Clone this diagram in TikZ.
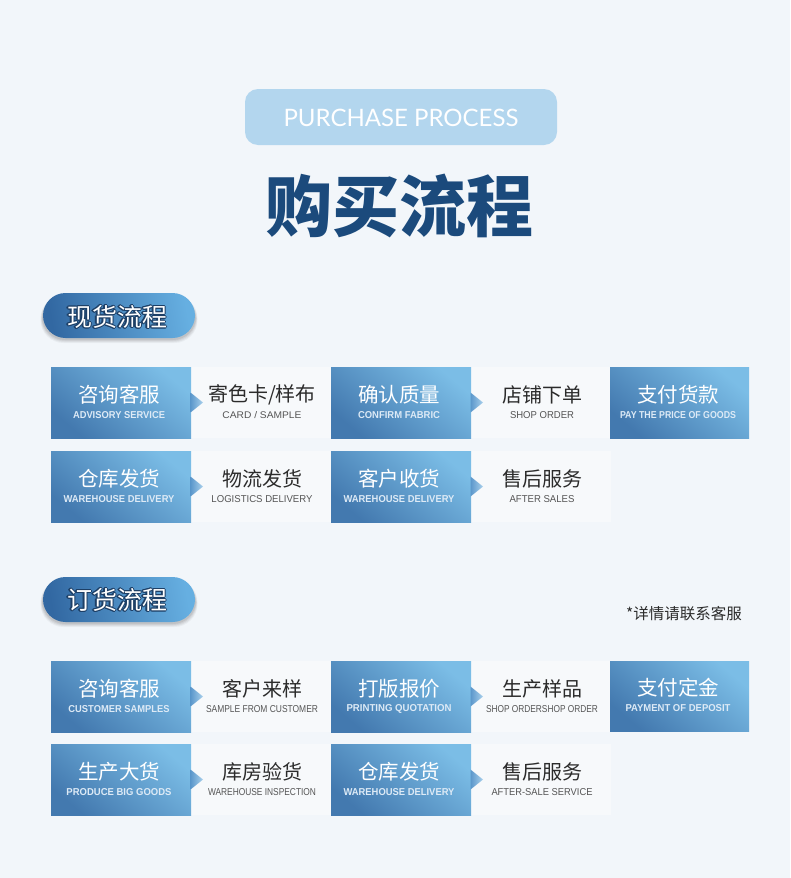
\documentclass[tikz,border=0pt]{standalone}
\usepackage{fontspec}
\usepackage{graphicx}
\setmainfont{Liberation Sans}
\newfontfamily\cjk{Noto Sans CJK SC}
\newfontfamily\latf{Lato}
\usetikzlibrary{calc}
\definecolor{bg}{HTML}{F2F6FA}
\definecolor{cellbg}{HTML}{F7F9FB}
\definecolor{titlepill}{HTML}{B3D6EE}
\definecolor{titleblue}{HTML}{1B4A7C}
\definecolor{boxdark}{HTML}{4379AF}
\definecolor{boxlight}{HTML}{7BBDE6}
\definecolor{boxmid}{HTML}{5B97CB}
\definecolor{notchlight}{HTML}{A9D0EC}
\definecolor{pilldark}{HTML}{3268A2}
\definecolor{pilllight}{HTML}{66AFE1}
\definecolor{pillline}{HTML}{1D3F66}
\definecolor{midtext}{HTML}{2B2B2B}
\definecolor{midsub}{HTML}{555555}
\definecolor{boxsub}{HTML}{DDEAF6}
\newcommand\boxen[2]{\resizebox{#1pt}{7pt}{\bfseries #2}}
\newcommand\miden[2]{\resizebox{#1pt}{7pt}{#2}}
\newcommand\shiftcopy[3]{\rlap{\hspace{#1pt}\raisebox{#2pt}{#3}}}
\newcommand\outlinedcn[1]{{\color{pillline}%
  \shiftcopy{-1.2}{0}{#1}\shiftcopy{1.2}{0}{#1}\shiftcopy{0}{1.2}{#1}\shiftcopy{0}{-1.2}{#1}%
  \shiftcopy{-.85}{-.85}{#1}\shiftcopy{.85}{.85}{#1}\shiftcopy{-.85}{.85}{#1}\shiftcopy{.85}{-.85}{#1}}#1}
\tikzset{
  boxshade/.style={left color=boxdark, right color=boxlight, shading angle=140},
  notchshade/.style={left color=boxmid, right color=notchlight},
  pillshade/.style={left color=pilldark, right color=pilllight, shading angle=100},
  boxcn/.style={inner sep=0pt, font=\cjk\fontsize{20.5}{22}\selectfont, text=white},
  boxsubt/.style={inner sep=0pt, text=boxsub},
  midcn/.style={inner sep=0pt, font=\cjk\fontsize{20}{22}\selectfont, text=midtext},
  midsubt/.style={inner sep=0pt, text=midsub},
  pilltext/.style={inner sep=0pt, font=\cjk\fontsize{25}{27}\selectfont},
}
% #1 name, #2 x, #3 y, #4 cn, #5 en-width, #6 en
\newcommand\flowbox[6]{%
  \shade[boxshade] (#2,#3) rectangle ++(140,71);
  \shade[notchshade] ($(#2,#3)+(139.5,25.5)$) -- ++(12.5,10) -- ++(-12.5,10) -- cycle;
  \node[boxcn] (#1) at ($(#2,#3)+(68,28)$) {#4};
  \node[boxsubt] (#1-en) at ($(#2,#3)+(68,48)$) {\boxen{#5}{#6}};
}
% middle cell: #1 name, #2 x (box left), #3 y, #4 cn, #5 width, #6 en
\newcommand\midcell[6]{%
  \fill[cellbg] ($(#2,#3)+(140,0)$) rectangle ($(#2,#3)+(280,71)$);
  \node[midcn] (#1) at ($(#2,#3)+(211,28)$) {#4};
  \node[midsubt] (#1-en) at ($(#2,#3)+(211,48)$) {\miden{#5}{#6}};
}
\newcommand\sectionpill[4]{% name, y top, y text, text
  \foreach \s/\o in {5/0.04,4/0.05,3/0.06,2/0.07}
    \fill[black, opacity=\o, rounded corners=23] (43-\s*0.5,#2+4-\s*0.3) rectangle (195+\s*0.5,#2+45+\s);
  \shade[pillshade, rounded corners=22.5] (43,#2) rectangle (195,#2+45);
  \node[pilltext, text=white] (#1) at (117,#3) {\outlinedcn{#4}};
}
\begin{document}
\begin{tikzpicture}[x=1pt,y=-1pt]
\useasboundingbox (0,0) rectangle (790,878);
\fill[bg] (0,0) rectangle (790,878);
% title
\fill[titlepill, rounded corners=13] (245,89) rectangle (557,145);
\node[inner sep=0pt, text=white, font=\latf\fontsize{24}{26}\selectfont] (ptitle) at (401,118) {PURCHASE PROCESS};
\node[inner sep=0pt, text=titleblue, font=\cjk\bfseries\fontsize{67}{70}\selectfont] (title) at (399,206) {购买流程};
% section 1
\sectionpill{sec1}{293}{317}{现货流程}
\midcell{m11}{51}{367}{寄色卡/样布}{79}{CARD / SAMPLE}
\midcell{m12}{331}{367}{店铺下单}{64}{SHOP ORDER}
\midcell{m21}{51}{451}{物流发货}{101}{LOGISTICS DELIVERY}
\midcell{m22}{331}{451}{售后服务}{65}{AFTER SALES}
\flowbox{a1}{51}{367}{咨询客服}{92}{ADVISORY SERVICE}
\flowbox{a2}{331}{367}{确认质量}{82}{CONFIRM FABRIC}
\shade[boxshade] (610,367) rectangle (749,438);
\node[boxcn] (a3) at (678,395) {支付货款};
\node[boxsubt] (a3-en) at (678,415) {\boxen{116}{PAY THE PRICE OF GOODS}};
\flowbox{a4}{51}{451}{仓库发货}{111}{WAREHOUSE DELIVERY}
\flowbox{a5}{331}{451}{客户收货}{111}{WAREHOUSE DELIVERY}
% section 2
\sectionpill{sec2}{577}{600}{订货流程}
\node[inner sep=0pt, text=midtext, font=\cjk\fontsize{15.5}{17}\selectfont] (note) at (684,614) {*详情请联系客服};
\midcell{n11}{51}{661}{客户来样}{112}{SAMPLE FROM CUSTOMER}
\midcell{n12}{331}{661}{生产样品}{112}{SHOP ORDERSHOP ORDER}
\midcell{n21}{51}{744}{库房验货}{108}{WAREHOUSE INSPECTION}
\midcell{n22}{331}{744}{售后服务}{101}{AFTER-SALE SERVICE}
\flowbox{b1}{51}{661}{咨询客服}{101}{CUSTOMER SAMPLES}
\flowbox{b2}{331}{661}{打版报价}{105}{PRINTING QUOTATION}
\shade[boxshade] (610,661) rectangle (749,731);
\node[boxcn] (b3) at (678,688) {支付定金};
\node[boxsubt] (b3-en) at (678,708) {\boxen{105}{PAYMENT OF DEPOSIT}};
\flowbox{b4}{51}{744}{生产大货}{105}{PRODUCE BIG GOODS}
\flowbox{b5}{331}{744}{仓库发货}{111}{WAREHOUSE DELIVERY}
\end{tikzpicture}
\end{document}
